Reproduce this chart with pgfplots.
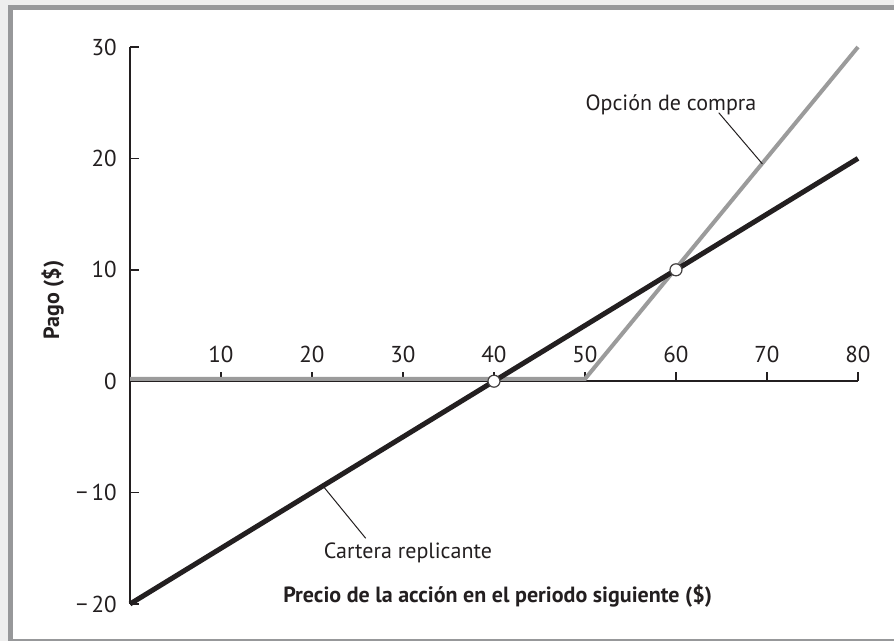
\documentclass[border=0pt]{standalone}
\usepackage{fontspec}
\setmainfont{PT Sans}
\usepackage{pgfplots}
\pgfplotsset{compat=1.18}

\definecolor{ink}{HTML}{231F20}
\definecolor{callgray}{HTML}{9B9B9B}
\definecolor{framegray}{HTML}{97989A}
\definecolor{strip}{HTML}{EEEEEE}

\begin{document}
\begin{tikzpicture}
% marco de la figura
\fill[strip] (0,0) rectangle (447pt,320.5pt);
\fill[framegray] (4pt,0) rectangle (447pt,318pt);
\fill[white] (6.5pt,1pt) rectangle (447pt,315.5pt);

\begin{axis}[
  at={(65pt,18.5pt)}, anchor=south west,
  scale only axis, width=364pt, height=278.5pt,
  xmin=0, xmax=80, ymin=-20, ymax=30,
  axis x line=middle, axis y line=left,
  axis line style={ink, line width=0.75pt, -},
  xtick={10,20,30,40,50,60,70,80},
  xticklabels={10,20,30,40,50,60,70,80},
  ytick={-20,-10,0,10,20,30},
  yticklabels={−\,20,−\,10,0,10,20,30},
  tick align=inside,
  major tick length=4.5pt,
  tick style={ink, line width=0.75pt},
  xticklabel style={anchor=south, inner sep=0pt, yshift=9pt},
  yticklabel style={anchor=east, inner sep=0pt, xshift=-6.5pt},
  tick label style={font=\fontsize{11.5}{13}\selectfont, text=ink},
  clip=false,
]

% opcion de compra
\addplot[callgray, line width=2pt, line join=miter]
  coordinates {(0,0.2) (50,0.2) (80,30)};
% cartera replicante
\addplot[ink, line width=2.5pt]
  coordinates {(0,-20) (80,20)};
% puntos de corte
\addplot[only marks, mark=*, mark size=3pt,
         mark options={fill=white, draw=ink!85, line width=0.6pt}]
  coordinates {(40,0) (60,10)};

% rotulos con lineas guia
\draw[ink, line width=0.5pt] (axis cs:64.7,24.1) -- (axis cs:69.5,19.5);
\draw[ink, line width=0.5pt] (axis cs:25.9,-14.1) -- (axis cs:21.2,-9.4);
\node[anchor=base, inner sep=0pt, font=\fontsize{11}{13}\selectfont, text=ink]
  at (axis cs:59.45,24.33) {Opción de compra};
\node[anchor=base, inner sep=0pt, font=\fontsize{11}{13}\selectfont, text=ink]
  at (axis cs:30.55,-15.89) {Cartera replicante};

% titulos de los ejes
\node[anchor=base, inner sep=0pt, font=\fontsize{11}{13}\selectfont\bfseries, text=ink]
  at (axis cs:40.4,-19.84) {Precio de la acción en el periodo siguiente (\$)};
\node[rotate=90, anchor=center, inner sep=0pt, font=\fontsize{11}{13}\selectfont\bfseries, text=ink]
  at (axis description cs:-0.106,0.546) {Pago (\$)};
\end{axis}

\pgfresetboundingbox
\useasboundingbox (0,0) rectangle (447pt,320.5pt);
\end{tikzpicture}
\end{document}
